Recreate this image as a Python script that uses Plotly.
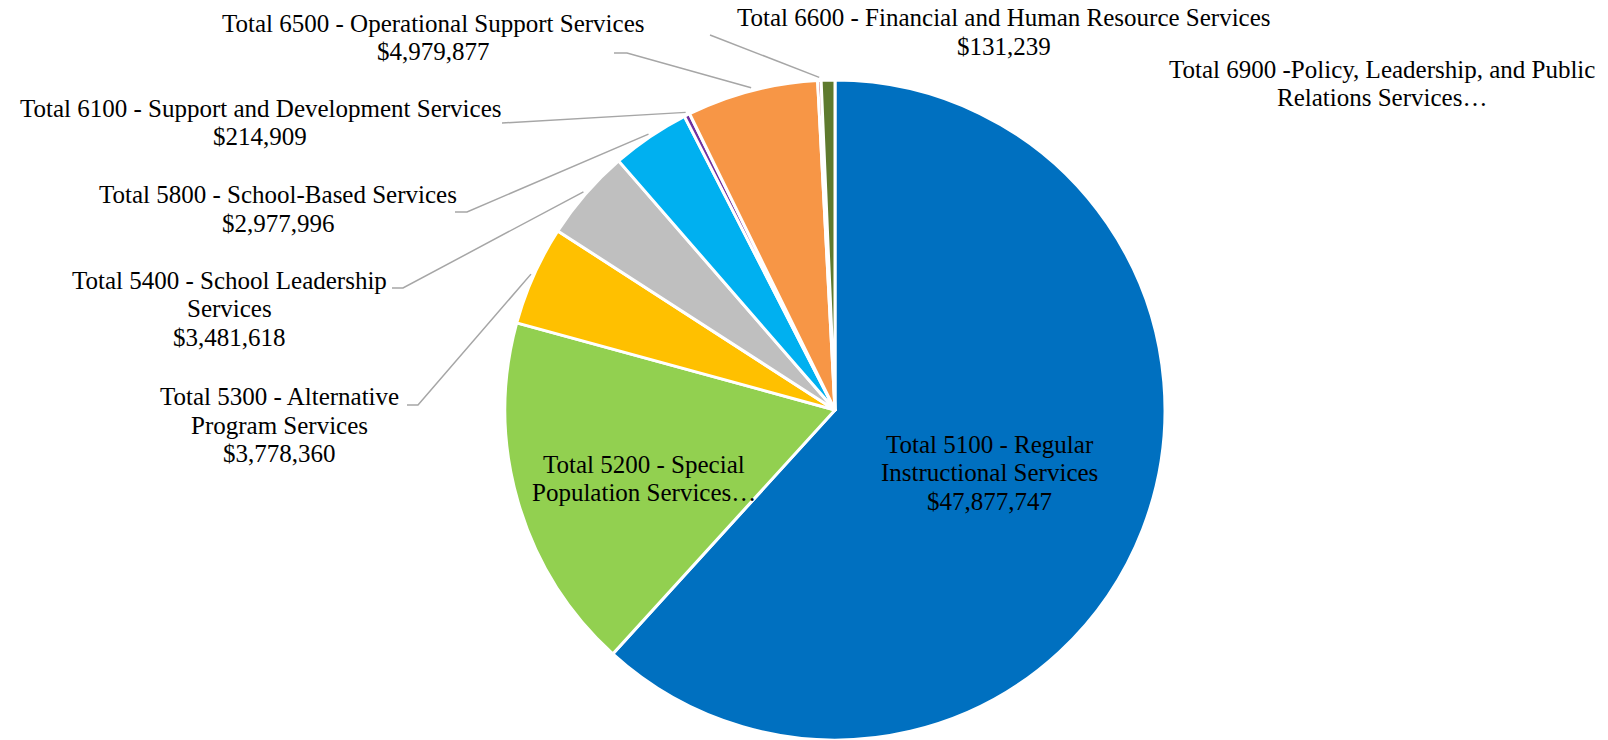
import math
import plotly.graph_objects as go

# Expenditure totals by function code
labels = [
    "Total 5100 - Regular Instructional Services",
    "Total 5200 - Special Population Services",
    "Total 5300 - Alternative Program Services",
    "Total 5400 - School Leadership Services",
    "Total 5800 - School-Based Services",
    "Total 6100 - Support and Development Services",
    "Total 6500 - Operational Support Services",
    "Total 6600 - Financial and Human Resource Services",
    "Total 6900 -Policy, Leadership, and Public Relations Services",
]
values = [47877747, 13560000, 3778360, 3481618, 2977996, 214909, 4979877, 131239, 520000]
colors = ["#0070C0", "#92D050", "#FFC000", "#BFBFBF", "#00B0F0",
          "#7030A0", "#F79646", "#C0504D", "#5E7A2E"]

W, H = 1608, 740
CX, CY, R = 835, 410, 330
FONT = "Liberation Serif"
FS = 25
LINE = "#A6A6A6"


def money(v):
    return "${:,}".format(v)


# Label blocks: slice index, text lines, centre x, first-line y
label_blocks = [
    (0, ["Total 5100 - Regular", "Instructional Services", money(values[0])], 990, 444),
    (1, ["Total 5200 - Special", "Population Services…"], 644, 464),
    (2, ["Total 5300 - Alternative", "Program Services", money(values[2])], 279, 397),
    (3, ["Total 5400 - School Leadership", "Services", money(values[3])], 229, 280),
    (4, ["Total 5800 - School-Based Services", money(values[4])], 278, 195),
    (5, ["Total 6100 - Support and Development Services", money(values[5])], 260, 108),
    (6, ["Total 6500 - Operational Support Services", money(values[6])], 433, 23),
    (7, ["Total 6600 - Financial and Human Resource Services", money(values[7])], 1004, 18),
    (8, ["Total 6900 -Policy, Leadership, and Public", "Relations Services…"], 1382, 69),
]
PITCH = 28.5

# Leader line start points (label side), then they run to the slice rim
leaders = {
    2: [(407, 405), (418, 405)],
    3: [(392, 288), (403, 288)],
    4: [(455, 212), (467, 212)],
    5: [(502, 123)],
    6: [(614, 53), (627, 53)],
    7: [(710, 35)],
}


def px(x, y):
    return x / W, 1 - y / H


fig = go.Figure(go.Pie(
    labels=labels,
    values=values,
    sort=False,
    direction="clockwise",
    rotation=0,
    marker=dict(colors=colors, line=dict(color="white", width=3)),
    textinfo="none",
    hoverinfo="label+value+percent",
    showlegend=False,
    domain=dict(x=[(CX - R) / W, (CX + R) / W], y=[1 - (CY + R) / H, 1 - (CY - R) / H]),
))

# mid-angle of every slice, clockwise from 12 o'clock
total = sum(values)
mids = []
acc = 0
for v in values:
    mids.append((acc + v / 2) / total * 2 * math.pi)
    acc += v

shapes = []
for idx, pts in leaders.items():
    a = mids[idx]
    rim = (CX + (R + 3) * math.sin(a), CY - (R + 3) * math.cos(a))
    path_pts = pts + [rim]
    d = ""
    for i, (x, y) in enumerate(path_pts):
        xp, yp = px(x, y)
        d += ("M" if i == 0 else "L") + f"{xp},{yp} "
    shapes.append(dict(type="path", xref="paper", yref="paper", path=d.strip(),
                       line=dict(color=LINE, width=1.5)))

annotations = []
for idx, lines, x, y0 in label_blocks:
    for k, t in enumerate(lines):
        xp, yp = px(x, y0 + k * PITCH)
        annotations.append(dict(text=t, x=xp, y=yp, xref="paper", yref="paper",
                                xanchor="center", yanchor="middle", showarrow=False,
                                font=dict(family=FONT, size=FS, color="#000000")))

fig.update_layout(
    width=W, height=H,
    margin=dict(l=0, r=0, t=0, b=0),
    paper_bgcolor="white",
    plot_bgcolor="white",
    shapes=shapes,
    annotations=annotations,
)

fig.write_html("out.html")
